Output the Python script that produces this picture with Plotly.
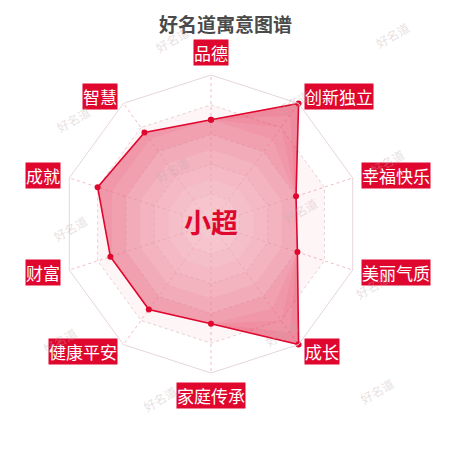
import math
import plotly.graph_objects as go

# categories, clockwise from the top
categories = ['品德', '创新独立', '幸福快乐', '美丽气质', '成长',
              '家庭传承', '健康平安', '财富', '成就', '智慧']
scores = [70, 100, 60, 61, 100, 67, 71, 71, 80, 76]
ring_levels = [20, 40, 60, 80, 100]

title_text = '好名道寓意图谱'
name_text = '小超'
watermark_text = '好名道'

RED = '#e0072f'
FONT = 'Noto Sans CJK SC'

W = H = 450
OFF = 8                      # page body margin the browser adds
cx, cy, R = 211 - OFF, 224 - OFF, 149   # centre and radius of the radar, px

loop = categories + categories[:1]
closed_scores = scores + scores[:1]

fig = go.Figure()

# faint outer band of the grid (60-80), drawn as an annulus
fig.add_trace(go.Scatterpolar(
    r=[80] * len(loop) + [60] * len(loop),
    theta=loop + loop[::-1],
    mode='lines', line=dict(width=0), fill='toself',
    fillcolor='rgba(226, 24, 62, 0.045)',
    hoverinfo='skip', showlegend=False))

# score area, darker at the rim
fig.add_trace(go.Scatterpolar(
    r=closed_scores, theta=loop,
    mode='lines', line=dict(width=0), fill='toself',
    fillcolor='rgba(222, 22, 60, 0.50)',
    hoverinfo='skip', showlegend=False))

# lighter veils toward the centre give the radial shading
for cap in [90, 80, 70, 60, 50, 40, 30, 20, 10]:
    fig.add_trace(go.Scatterpolar(
        r=[min(v, cap) for v in closed_scores], theta=loop,
        mode='lines', line=dict(width=0), fill='toself',
        fillcolor='rgba(255, 255, 255, 0.085)',
        hoverinfo='skip', showlegend=False))

# outline and points
fig.add_trace(go.Scatterpolar(
    r=closed_scores, theta=loop,
    mode='lines+markers',
    line=dict(color=RED, width=1.6),
    marker=dict(color=RED, size=6),
    showlegend=False,
))

fig.update_layout(
    width=W, height=H,
    margin=dict(l=0, r=0, t=0, b=0),
    paper_bgcolor='white',
    font=dict(family=FONT),
    polar=dict(
        domain=dict(x=[(cx - R) / W, (cx + R) / W],
                    y=[(H - cy - R) / H, (H - cy + R) / H]),
        gridshape='linear',
        bgcolor='rgba(0,0,0,0)',
        radialaxis=dict(range=[0, 100], tickvals=ring_levels,
                        showticklabels=False, ticks='', showline=False,
                        gridcolor='#e6d6d9', griddash='dot', gridwidth=1),
        angularaxis=dict(rotation=90, direction='clockwise',
                         showticklabels=False, ticks='',
                         showline=True, linecolor='#e6d6d9', linewidth=1,
                         gridcolor='#f3bcc6', griddash='dot', gridwidth=1,
                         layer='above traces'),
    ),
)

annotations = []

# title and centre name
annotations.append(dict(text='<b>' + title_text + '</b>', x=(225 - OFF) / W, y=1,
                        xref='paper', yref='paper', showarrow=False,
                        xanchor='center', yanchor='top',
                        font=dict(size=19, color='#4a4a4a', family=FONT)))
annotations.append(dict(text='<b>' + name_text + '</b>', x=cx / W, y=1 - (cy - 3) / H,
                        xref='paper', yref='paper', showarrow=False,
                        font=dict(size=27, color=RED, family=FONT)))

# category labels in red boxes, just outside the grid
rho = 158
n = len(categories)
for i, cat in enumerate(categories):
    ang = math.radians(360 * i / n)
    px = cx + rho * math.sin(ang)
    py = cy - rho * math.cos(ang)
    s = math.sin(ang)
    c = math.cos(ang)
    if abs(s) < 1e-6:
        xa = 'center'
        ya = 'bottom' if c > 0 else 'top'
    else:
        xa = 'left' if s > 0 else 'right'
        ya = 'middle'
    annotations.append(dict(text=cat, x=px / W, y=1 - py / H,
                            xref='paper', yref='paper', showarrow=False,
                            xanchor=xa, yanchor=ya,
                            bgcolor=RED, borderpad=0,
                            font=dict(size=17, color='white', family=FONT)))

# faint watermarks
wm_spots = [(172, 20), (415, 15), (50, 100), (293, 83), (172, 150), (410, 142),
            (47, 228), (300, 210), (395, 285), (37, 360), (282, 353),
            (160, 418), (400, 410)]
for wx, wy in wm_spots:
    annotations.append(dict(text=watermark_text, x=(wx - OFF) / W, y=1 - (wy - OFF) / H,
                            xref='paper', yref='paper', showarrow=False,
                            textangle=-30,
                            font=dict(size=12, color='rgba(190,170,170,0.38)',
                                      family=FONT)))

fig.update_layout(annotations=annotations)

fig.write_html("out.html")
